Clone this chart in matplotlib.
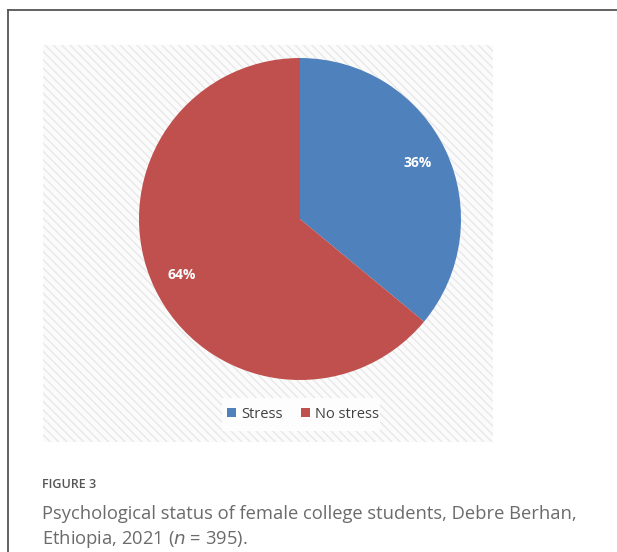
import matplotlib.pyplot as plt
from matplotlib.patches import Rectangle
from matplotlib.lines import Line2D

labels = ['Stress', 'No stress']
shares = [36, 64]
colors = ['#4F81BD', '#C0504D']

W, H = 617, 552
fig = plt.figure(figsize=(W / 100, H / 100), dpi=100, facecolor='white')


def px(x, y):
    # pixel coords (top-left origin) -> figure fraction
    return x / W, 1 - y / H


# card frame: left and top rules
fig.add_artist(Line2D([8 / W, 8 / W], [0, 1 - 10 / H], color='#555555', lw=1.3))
fig.add_artist(Line2D([8 / W, 1], [1 - 10 / H, 1 - 10 / H], color='#555555', lw=1.3))

# hatched chart area background (kept under the pie axes)
bx0, by0 = px(43, 442)
bg = Rectangle((bx0, by0), (493 - 43) / W, (442 - 45) / H, transform=fig.transFigure,
               facecolor='#fbfbfb', edgecolor='#e8e8e8', hatch='\\\\\\\\', lw=0, zorder=-2)
fig.add_artist(bg)

# pie
cx, cy, r = 300, 219, 161
ax = fig.add_axes([(cx - r) / W, (H - cy - r) / H, 2 * r / W, 2 * r / H])
ax.set_zorder(1)
ax.patch.set_visible(False)
wedges, texts, autotexts = ax.pie(shares, colors=colors, startangle=90, counterclock=False,
                                  autopct='%d%%', pctdistance=0.81,
                                  wedgeprops=dict(linewidth=0),
                                  textprops=dict(color='white', fontweight='bold', fontsize=10,
                                                 family='Open Sans'))
ax.set_xlim(-1, 1)
ax.set_ylim(-1, 1)
ax.set_aspect('equal')
ax.axis('off')

# legend with light box
lx0, ly0 = px(222, 431)
fig.add_artist(Rectangle((lx0, ly0), 158 / W, 33 / H, transform=fig.transFigure,
                         facecolor='#fdfdfd', edgecolor='none', zorder=-1))
lg = fig.legend(wedges, labels, loc='center', bbox_to_anchor=px(303, 414), ncol=2,
                frameon=False, handlelength=0.6, handleheight=0.6, handletextpad=0.35,
                columnspacing=1.3, prop=dict(family='Open Sans', size=10.5))
for t in lg.get_texts():
    t.set_color('#404040')

# caption
fig.text(*px(42, 484), 'FIGURE 3', fontsize=9, color='#555555', family='Open Sans',
         fontweight='semibold', va='center')
fig.text(*px(42, 514), 'Psychological status of female college students, Debre Berhan,',
         fontsize=13.2, color='#6b6b6b', family='Open Sans', va='center')
fig.text(*px(42, 539), 'Ethiopia, 2021 ($\\mathit{n}$ = 395).',
         fontsize=13.2, color='#6b6b6b', family='Open Sans', va='center')

fig.savefig('out.png', dpi=100)
